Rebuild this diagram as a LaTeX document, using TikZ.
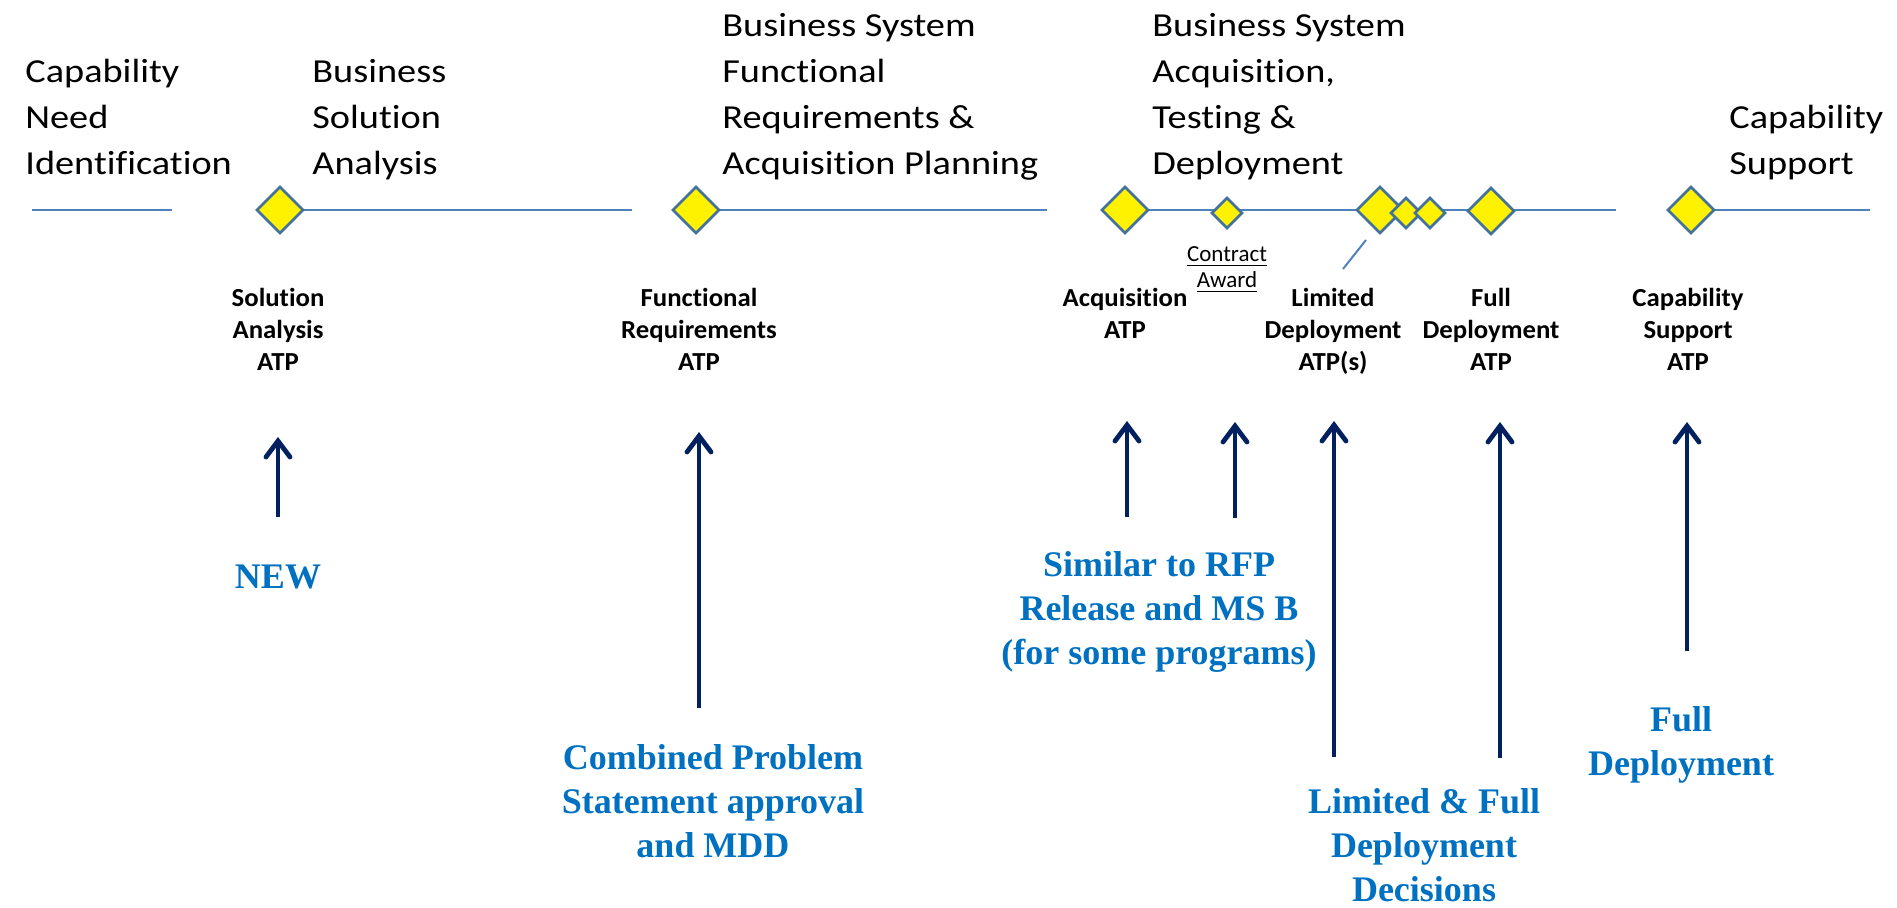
\documentclass[tikz,border=0pt]{standalone}
\usepackage{fontspec}
\setmainfont[Ligatures=NoCommon]{Carlito}
\newfontfamily\phasefont[FakeStretch=1.14,Ligatures=NoCommon]{Carlito}
\newfontfamily\atpfont[FakeStretch=1.03,Ligatures=NoCommon]{Carlito}
\newfontfamily\notefont{Liberation Serif}
\usetikzlibrary{shapes,arrows.meta}
\usetikzlibrary{backgrounds}

\definecolor{lineblue}{HTML}{4F81BD}
\definecolor{edgeblue}{HTML}{41719C}
\definecolor{navy}{HTML}{002060}
\definecolor{textblue}{HTML}{0070C0}

\begin{document}
\begin{tikzpicture}[x=0.5pt,y=-0.5pt]
    \tikzstyle{milestone}=[diamond, draw=edgeblue, fill=yellow, line width=1.35pt, inner sep=0pt, minimum width=23.5pt, minimum height=23.5pt]
    \tikzstyle{minor}=[milestone, minimum width=15.5pt, minimum height=15.5pt]
    \tikzstyle{phase}=[anchor=base west, align=left, inner sep=0pt, font=\phasefont\fontsize{16.8pt}{23pt}\selectfont]
    \tikzstyle{atp}=[anchor=base, align=center, inner sep=0pt, font=\atpfont\bfseries\fontsize{13pt}{16pt}\selectfont]
    \tikzstyle{award}=[anchor=base, align=center, inner sep=0pt, font=\fontsize{11.5pt}{13pt}\selectfont]
    \tikzstyle{note}=[anchor=base, align=center, inner sep=0pt, text=textblue, font=\notefont\bfseries\fontsize{18pt}{22pt}\selectfont]
    \tikzstyle{track}=[lineblue, line width=1pt]
    \tikzstyle{push}=[navy, line width=2.4pt, -{Straight Barb[length=8pt,width=12pt,line cap=round]}]

    \useasboundingbox (0,0) rectangle (1897,908);

    \node[phase] (need)    at (25,175)   {Capability\\Need\\Identification};
    \node[phase] (solan)   at (312,175)  {Business\\Solution\\Analysis};
    \node[phase] (funreq)  at (722,175)  {Business System\\Functional\\Requirements \&\\Acquisition Planning};
    \node[phase] (acqdep)  at (1152,175) {Business System\\Acquisition,\\Testing \&\\Deployment};
    \node[phase] (support) at (1729,175) {Capability\\Support};

    \coordinate (t0) at (32,210);
    \coordinate (t1) at (172,210);
    \coordinate (t2) at (632,210);
    \coordinate (t3) at (1047,210);
    \coordinate (t4) at (1616,210);
    \coordinate (t5) at (1870,210);

    \node[milestone] (sa)   at (280,210)  {};
    \node[milestone] (fr)   at (696,210)  {};
    \node[milestone] (acq)  at (1125,210) {};
    \node[minor]     (ca)   at (1227,213) {};
    \node[milestone] (ld)   at (1380,210) {};
    \node[minor]     (ldb)  at (1406,213) {};
    \node[minor]     (ldc)  at (1430,213) {};
    \node[milestone] (fd)   at (1491,211) {};
    \node[milestone] (cs)   at (1691,210) {};

    \begin{scope}[on background layer]
        \draw[track] (t0) -- (t1);
        \draw[track] (sa.center) -- (t2);
        \draw[track] (fr.center) -- (t3);
        \draw[track] (acq.center) -- (t4);
        \draw[track] (cs.center) -- (t5);
    \end{scope}

    \coordinate (lead1) at (1366,240);
    \coordinate (lead2) at (1343,269);
    \draw[track] (lead1) -- (lead2);

    \node[atp]   (saatp)  at (278,371)  {Solution\\Analysis\\ATP};
    \node[atp]   (fratp)  at (699,371)  {Functional\\Requirements\\ATP};
    \node[atp]   (acqatp) at (1125,339) {Acquisition\\ATP};
    \node[award] (caw)    at (1227,288) {\underline{Contract}\\\underline{Award}};
    \node[atp]   (ldatp)  at (1333,371) {Limited\\Deployment\\ATP(s)};
    \node[atp]   (fdatp)  at (1491,371) {Full\\Deployment\\ATP};
    \node[atp]   (csatp)  at (1688,371) {Capability\\Support\\ATP};

    \node[note] (new)      at (278,589)  {NEW};
    \node[note] (combined) at (713,857)  {Combined Problem\\Statement approval\\and MDD};
    \node[note] (similar)  at (1159,665) {Similar to RFP\\Release and MS B\\(for some programs)};
    \node[note] (decide)   at (1424,901) {Limited \& Full\\Deployment\\Decisions};
    \node[note] (full)     at (1681,776) {Full\\Deployment};

    \coordinate (a1s) at (278,517);  \coordinate (a1e) at (278,437);
    \coordinate (a2s) at (699,708);  \coordinate (a2e) at (699,432);
    \coordinate (a3s) at (1127,517); \coordinate (a3e) at (1127,421);
    \coordinate (a4s) at (1235,518); \coordinate (a4e) at (1235,422);
    \coordinate (a5s) at (1334,757); \coordinate (a5e) at (1334,421);
    \coordinate (a6s) at (1500,758); \coordinate (a6e) at (1500,422);
    \coordinate (a7s) at (1687,651); \coordinate (a7e) at (1687,422);

    \draw[push] (a1s) -- (a1e);
    \draw[push] (a2s) -- (a2e);
    \draw[push] (a3s) -- (a3e);
    \draw[push] (a4s) -- (a4e);
    \draw[push] (a5s) -- (a5e);
    \draw[push] (a6s) -- (a6e);
    \draw[push] (a7s) -- (a7e);
\end{tikzpicture}
\end{document}
